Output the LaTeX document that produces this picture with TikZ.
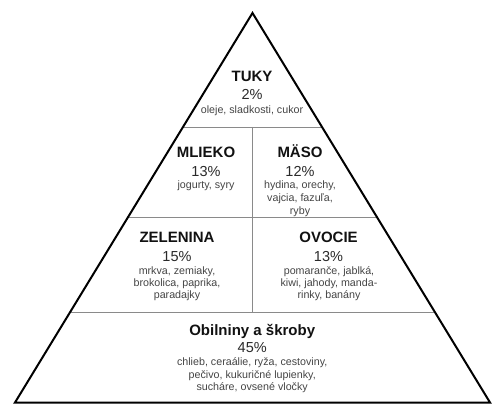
\documentclass[tikz,border=0pt]{standalone}
\usepackage{fontspec}
\setmainfont{Liberation Sans}
\usetikzlibrary{calc}
\definecolor{headc}{HTML}{111111}
\definecolor{pctc}{HTML}{2A2A2A}
\definecolor{smallc}{HTML}{444444}
\definecolor{divc}{HTML}{8A8A8A}
\tikzset{
  head/.style={anchor=base,inner sep=0pt,text=headc,font=\fontsize{15}{15}\selectfont\bfseries},
  pct/.style={anchor=base,inner sep=0pt,text=pctc,font=\fontsize{14.5}{14.5}\selectfont},
  small/.style={anchor=base,inner sep=0pt,text=smallc,font=\fontsize{10.7}{10.7}\selectfont},
  divider/.style={draw=divc,line width=0.9pt},
  outline/.style={draw=black,line width=2pt,line join=miter}
}
\begin{document}
\begin{tikzpicture}[x=1pt,y=-1pt]
\useasboundingbox (0,0) rectangle (500,411);
\coordinate (apex) at (252.5,13);
\coordinate (bl) at (15,402.5);
\coordinate (br) at (490,402.5);
\coordinate (l1) at ($(apex)!0.2927!(bl)$);
\coordinate (r1) at ($(apex)!0.2927!(br)$);
\coordinate (l2) at ($(apex)!0.5237!(bl)$);
\coordinate (r2) at ($(apex)!0.5237!(br)$);
\coordinate (l3) at ($(apex)!0.7677!(bl)$);
\coordinate (r3) at ($(apex)!0.7677!(br)$);
\coordinate (vt) at (252.5,127);
\coordinate (vb) at (252.5,312);
\draw[divider] (l1) -- (r1);
\draw[divider] (l2) -- (r2);
\draw[divider] (l3) -- (r3);
\draw[divider] (vt) -- (vb);
\draw[outline] (apex) -- (bl) -- (br) -- cycle;
% TUKY
\node[head] (tuky) at (252,82) {TUKY};
\node[pct] (tukyp) at (252,99.5) {2\%};
\node[small] (tukys) at (252,114) {oleje, sladkosti, cukor};
% MLIEKO
\node[head] (mlieko) at (206,158) {MLIEKO};
\node[pct] (mliekop) at (206,177) {13\%};
\node[small] (mliekos) at (206,188.5) {jogurty, syry};
% MASO
\node[head] (maso) at (300,158) {MÄSO};
\node[pct] (masop) at (300,177) {12\%};
\node[small] (masos1) at (300,188.5) {hydina, orechy,};
\node[small] (masos2) at (300,201.8) {vajcia, fazuľa,};
\node[small] (masos3) at (300,215) {ryby};
% ZELENINA
\node[head] (zel) at (177,243) {ZELENINA};
\node[pct] (zelp) at (177,262) {15\%};
\node[small] (zels1) at (177,274.5) {mrkva, zemiaky,};
\node[small] (zels2) at (177,286.5) {brokolica, paprika,};
\node[small] (zels3) at (177,298.5) {paradajky};
% OVOCIE
\node[head] (ovo) at (328.5,243) {OVOCIE};
\node[pct] (ovop) at (328.5,262) {13\%};
\node[small] (ovos1) at (329,274.5) {pomaranče, jablká,};
\node[small] (ovos2) at (329,286.5) {kiwi, jahody, manda-};
\node[small] (ovos3) at (329,298.5) {rinky, banány};
% OBILNINY
\node[head] (obi) at (252.2,335) {Obilniny a škroby};
\node[pct] (obip) at (252.2,352.3) {45\%};
\node[small] (obis1) at (252.2,365.7) {chlieb, ceraálie, ryža, cestoviny,};
\node[small] (obis2) at (252.2,378) {pečivo, kukuričné lupienky,};
\node[small] (obis3) at (252.2,390.7) {sucháre, ovsené vločky};
\end{tikzpicture}
\end{document}
